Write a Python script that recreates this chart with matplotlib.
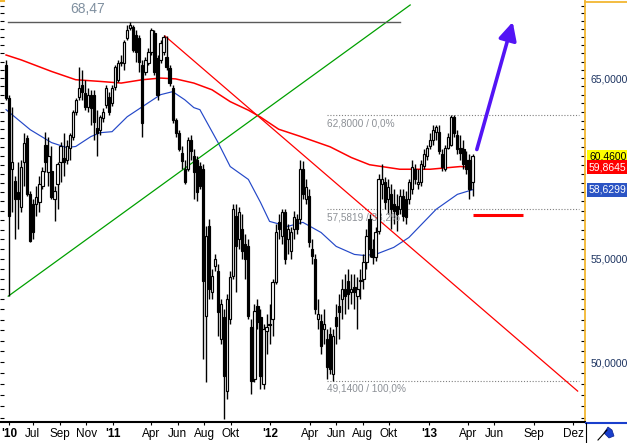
import numpy as np
import pandas as pd
import matplotlib
matplotlib.use('Agg')
import matplotlib.pyplot as plt
import matplotlib.dates as mdates
import matplotlib.transforms as mtransforms
from matplotlib.lines import Line2D
from matplotlib.patches import Polygon
from matplotlib.ticker import FixedLocator, NullFormatter, FuncFormatter

plt.rcParams['font.family'] = ['Liberation Sans', 'DejaVu Sans']

# weekly candles, first week starting 2010-05-03
start = '2010-05-03'
opens = [65.80, 63.83, 59.74, 59.08, 58.49, 57.68, 60.13, 61.52, 58.38, 57.84,
         57.84, 57.95, 58.81, 61.13, 59.58, 59.63, 58.11, 58.92, 60.13, 60.40,
         60.29, 60.96, 61.58, 63.01, 63.89, 64.59, 64.12, 63.30, 64.00, 64.00,
         62.09, 61.97, 62.67, 63.42, 63.89, 63.53, 64.47, 64.89, 65.92, 65.92,
         67.46, 68.08, 68.14, 67.64, 67.46, 65.80, 65.38, 65.92, 66.59, 67.77,
         66.23, 66.10, 66.59, 66.29, 65.62, 64.42, 62.55, 61.80, 60.68, 59.74,
         59.74, 61.41, 60.46, 60.29, 59.91, 59.74, 52.17, 56.68, 53.34, 54.63,
         54.38, 51.07, 52.12, 48.68, 52.03, 54.13, 57.21, 56.00, 56.52, 55.75,
         55.64, 51.64, 49.23, 52.65, 52.12, 49.00, 51.45, 51.79, 52.03, 53.83,
         56.89, 56.16, 57.42, 56.00, 55.39, 56.52, 57.05, 57.05, 59.74, 58.11,
         58.27, 55.49, 54.98, 52.03, 51.93, 51.55, 51.07, 51.31, 49.45, 52.12,
         52.65, 52.99, 53.48, 53.88, 53.34, 53.58, 53.14, 53.88, 53.98, 54.83,
         57.05, 55.49, 55.08, 56.42, 58.92, 59.03, 58.11, 58.38, 57.84, 57.74,
         57.58, 58.27, 58.11, 58.11, 58.65, 59.74, 58.92, 59.03, 59.91, 60.46,
         61.02, 61.41, 61.86, 61.86, 60.57, 59.74, 60.96, 61.13, 62.72, 61.69,
         60.96, 60.85, 60.29, 60.29, 59.03]
highs = [66.10, 64.00, 63.30, 59.36, 60.13, 60.29, 61.80, 61.69, 58.54, 58.11,
         58.81, 59.36, 59.85, 61.86, 61.58, 61.02, 58.81, 60.13, 61.30, 61.80,
         61.41, 61.80, 63.13, 63.83, 65.68, 65.50, 64.89, 64.42, 64.30, 64.30,
         63.13, 62.84, 63.24, 64.59, 64.18, 64.59, 65.80, 66.10, 66.41, 67.33,
         68.27, 68.47, 68.27, 67.96, 67.64, 66.10, 66.29, 66.84, 68.08, 67.96,
         66.41, 67.33, 67.64, 67.58, 65.80, 64.59, 62.67, 61.97, 61.02, 60.29,
         61.58, 61.69, 60.85, 60.46, 60.13, 60.02, 56.68, 57.05, 54.48, 55.23,
         54.73, 52.99, 52.51, 53.24, 54.38, 57.84, 57.84, 57.68, 57.31, 56.26,
         56.00, 52.03, 52.75, 52.99, 52.51, 51.79, 52.27, 52.75, 53.98, 56.78,
         57.31, 57.58, 57.58, 56.78, 56.63, 57.47, 57.31, 60.29, 60.18, 59.19,
         58.65, 56.00, 55.23, 52.99, 52.27, 52.51, 51.55, 51.64, 51.55, 52.75,
         53.24, 53.98, 54.23, 54.48, 54.23, 54.23, 54.08, 54.48, 55.23, 56.52,
         57.31, 56.00, 56.63, 59.47, 60.02, 59.30, 59.19, 58.92, 58.65, 58.38,
         58.65, 58.65, 58.54, 59.19, 60.29, 60.02, 59.74, 60.29, 60.85, 61.13,
         61.80, 62.26, 62.26, 62.26, 60.85, 61.13, 61.80, 62.80, 62.80, 61.97,
         61.69, 61.41, 60.74, 60.57, 60.57]
lows = [63.71, 53.14, 57.42, 56.00, 56.52, 57.42, 58.81, 58.27, 55.85, 56.00,
        57.21, 57.42, 58.65, 59.58, 58.81, 58.11, 56.94, 57.58, 59.03, 59.36,
        60.02, 60.29, 61.41, 62.84, 63.71, 63.71, 63.13, 63.01, 62.26, 61.41,
        60.46, 61.69, 62.43, 63.24, 62.84, 63.36, 64.30, 64.77, 65.74, 65.50,
        67.33, 67.96, 66.59, 65.98, 65.38, 61.58, 65.19, 65.80, 66.41, 65.19,
        63.71, 65.92, 66.41, 65.50, 64.53, 62.38, 61.58, 60.74, 59.74, 58.92,
        59.63, 60.29, 58.11, 58.00, 58.65, 50.14, 49.09, 52.99, 52.99, 54.38,
        51.21, 50.84, 47.45, 48.33, 51.79, 53.98, 53.34, 55.49, 54.98, 53.98,
        52.03, 48.55, 49.09, 51.55, 48.77, 48.77, 50.37, 50.84, 51.21, 53.73,
        56.00, 55.75, 54.73, 55.23, 54.98, 56.00, 56.26, 56.78, 58.11, 57.84,
        55.59, 54.73, 52.27, 51.55, 50.37, 50.84, 49.23, 49.45, 49.14, 50.84,
        51.07, 52.03, 52.27, 52.51, 52.75, 52.51, 51.55, 52.99, 53.48, 54.48,
        55.08, 54.73, 54.88, 56.26, 58.11, 57.58, 57.31, 56.52, 56.78, 56.42,
        57.31, 56.94, 56.78, 57.84, 58.38, 58.92, 58.65, 58.81, 59.74, 60.29,
        60.85, 61.13, 61.41, 60.57, 59.63, 59.63, 60.85, 61.02, 61.58, 60.57,
        60.29, 59.74, 59.47, 58.11, 58.27]
closes = [63.83, 57.21, 60.13, 58.11, 58.11, 59.85, 61.24, 58.38, 55.90, 56.37,
          58.22, 58.92, 59.63, 60.13, 60.46, 58.22, 58.54, 60.02, 61.02, 60.13,
          61.02, 61.69, 63.01, 63.71, 64.42, 64.18, 63.30, 64.00, 63.24, 62.43,
          61.80, 62.72, 63.01, 64.42, 63.01, 64.42, 65.68, 65.92, 65.98, 67.21,
          67.96, 68.27, 66.72, 66.59, 65.98, 62.38, 66.10, 66.59, 67.96, 65.38,
          64.00, 67.15, 67.52, 65.68, 64.71, 62.55, 61.80, 60.85, 60.18, 59.03,
          61.41, 60.74, 59.58, 58.49, 58.81, 53.88, 56.16, 53.48, 54.13, 54.98,
          52.36, 52.75, 49.36, 52.99, 54.08, 57.58, 55.64, 57.42, 55.39, 54.98,
          52.17, 49.14, 52.41, 51.88, 49.36, 51.55, 51.64, 51.75, 53.83, 56.37,
          56.52, 57.42, 54.98, 56.52, 56.37, 57.15, 56.52, 59.74, 58.38, 58.76,
          55.85, 55.13, 52.51, 52.27, 50.75, 51.79, 49.77, 49.68, 51.21, 51.69,
          52.36, 53.48, 53.14, 53.24, 53.48, 53.34, 53.48, 53.93, 54.83, 56.16,
          55.49, 55.08, 56.37, 59.19, 59.19, 57.95, 58.76, 57.58, 57.47, 57.31,
          58.27, 57.21, 57.15, 59.03, 59.85, 59.19, 59.03, 60.02, 60.57, 60.96,
          61.41, 61.97, 62.15, 60.74, 59.85, 60.96, 61.58, 62.72, 61.80, 60.85,
          60.68, 60.02, 59.74, 58.65, 60.46]

# moving averages, sampled at week numbers
red_ma_wk = [0, 5, 15, 23, 31, 38, 45, 51, 56, 62, 68, 74, 80, 84, 90, 97, 107, 114, 120, 130, 140, 150, 154]
red_ma = [66.4, 66.1, 65.4, 64.9, 64.8, 64.7, 64.9, 65.0, 64.95, 64.7, 64.3, 63.6, 63.1, 62.7, 62.0, 61.6,
          61.0, 60.4, 60.0, 59.75, 59.75, 59.9, 59.8645]
blue_ma_wk = [0, 8, 15, 20, 23, 28, 31, 35, 40, 46, 51, 55, 59, 62, 64, 70, 74, 80, 84, 87, 93, 98, 104,
              109, 115, 118, 122, 128, 133, 142, 149, 154]
blue_ma = [63.13, 61.97, 61.24, 60.96, 61.02, 61.58, 61.80, 61.86, 62.72, 63.42, 64.01, 64.19, 63.71, 63.25,
           63.13, 61.24, 59.90, 59.19, 57.95, 56.94, 56.68, 56.89, 56.36, 55.64, 55.23, 55.18, 55.23, 55.59,
           56.10, 57.58, 58.38, 58.6299]

# drawn lines (date, price)
green_line = [('2010-05-08', 53.14), ('2012-11-22', 69.54)]
red_line = [('2011-05-05', 67.58), ('2013-12-14', 48.68)]
top_level = 68.47
top_span = ['2010-05-08', '2012-10-29']
fib_levels = [62.80, 57.5819, 49.14]
fib_labels = ['62,8000 / 0,0%', '57,5819 / 38,2%', '49,1400 / 100,0%']
fib_span = ['2012-05-14', '2013-12-16']
arrow_from = ('2013-04-25', 60.85)
arrow_to = ('2013-07-17', 68.46)
support_line = [('2013-04-15', 57.26), ('2013-08-09', 57.26)]
last_values = [60.46, 59.8645, 58.6299]
last_colors = ['#ffff00', '#ff0000', '#2b54c4']
last_text = ['black', 'white', 'white']

month_dates = ['2010-05-10', '2010-07-04', '2010-09-04', '2010-11-04', '2011-01-04', '2011-04-04',
               '2011-06-04', '2011-08-04', '2011-10-04', '2012-01-04', '2012-04-04', '2012-06-04',
               '2012-08-04', '2012-10-04', '2013-01-04', '2013-04-04', '2013-06-04', '2013-09-04',
               '2013-12-04']
month_labels = ["'10", 'Jul', 'Sep', 'Nov', "'11", 'Apr', 'Jun', 'Aug', 'Okt', "'12", 'Apr', 'Jun',
                'Aug', 'Okt', "'13", 'Apr', 'Jun', 'Sep', 'Dez']


def d(s):
    return mdates.date2num(pd.Timestamp(s))


o = np.array(opens)
h = np.array(highs)
l = np.array(lows)
c = np.array(closes)
weeks = pd.date_range(start, periods=len(c), freq='7D')
x = mdates.date2num(weeks)

W, H = 627, 443
fig = plt.figure(figsize=(W / 100, H / 100), dpi=100)
ax = fig.add_axes([0, 21 / H, 585 / W, 422 / H])
ax.set_yscale('log')
ax.set_ylim(47.31, 69.86)
ax.set_xlim(d('2010-04-19'), d('2013-12-31'))

# candles
up = c >= o
ax.vlines(x, l, h, color='black', lw=1.0, zorder=3)
ax.bar(x[up], c[up] - o[up], bottom=o[up], width=5.2, facecolor='white',
       edgecolor='black', lw=0.85, zorder=4)
ax.bar(x[~up], o[~up] - c[~up], bottom=c[~up], width=5.2, facecolor='black',
       edgecolor='black', lw=0.85, zorder=4)

# moving averages
ax.plot(x[red_ma_wk], red_ma, color='#ff0000', lw=1.1, zorder=2)
ax.plot(x[blue_ma_wk], blue_ma, color='#2448c8', lw=0.85, zorder=2)

# trend lines
ax.plot([d(p[0]) for p in green_line], [p[1] for p in green_line], color='#00a000', lw=0.9, zorder=2)
ax.plot([d(p[0]) for p in red_line], [p[1] for p in red_line], color='#ff0000', lw=0.9, zorder=2)

# high line
ax.plot([d(top_span[0]), d(top_span[1])], [top_level, top_level], color='#5a5a5a', lw=1.0, zorder=2)
ax.text(d('2010-11-08'), 69.3, '68,47', ha='center', va='center', fontsize=10,
        color='#8090a0')

# fibonacci levels
for lev, lab in zip(fib_levels, fib_labels):
    ax.plot([d(fib_span[0]), d(fib_span[1])], [lev, lev], color='#808080', lw=0.8,
            linestyle=(0, (1, 1.6)), zorder=1)
    ax.annotate(lab, xy=(d(fib_span[0]), lev), xytext=(0, -2), textcoords='offset points',
                ha='left', va='top', fontsize=7.2, color='#8c9096')

# arrow and support mark
ax.annotate('', xy=(d(arrow_to[0]), arrow_to[1]), xytext=(d(arrow_from[0]), arrow_from[1]),
            arrowprops=dict(arrowstyle='-|>', color='#5314f5', lw=2.6, mutation_scale=27,
                            shrinkA=0, shrinkB=0), zorder=6)
ax.plot([d(p[0]) for p in support_line], [p[1] for p in support_line], color='#ff0000', lw=2.2,
        solid_capstyle='butt', zorder=6)

# axes styling
for side in ['top', 'left']:
    ax.spines[side].set_visible(False)
ax.spines['right'].set_color('#f2b632')
ax.spines['right'].set_linewidth(1.3)
ax.spines['bottom'].set_color('black')
ax.spines['bottom'].set_linewidth(1.5)

ax.yaxis.set_major_locator(FixedLocator([50, 55, 60, 65]))
ax.yaxis.set_minor_locator(FixedLocator(np.arange(47.5, 70, 0.5)))
ax.yaxis.set_major_formatter(FuncFormatter(lambda v, p: '' if v == 60 else f'{v:.4f}'.replace('.', ',')))
ax.yaxis.set_minor_formatter(NullFormatter())
ax.tick_params(axis='y', which='both', direction='in', left=True, right=True, labelleft=False,
               labelright=True, length=3, width=0.8, color='black', labelsize=7.5,
               labelcolor='#1d3461', pad=4)

ax.set_xticks([d(s) for s in month_dates])
ax.set_xticklabels(month_labels)
ax.tick_params(axis='x', which='both', direction='out', length=2, width=0.8, labelsize=8.5,
               pad=2.5, color='black', labelcolor='black')
for t in ax.get_xticklabels():
    if t.get_text().startswith("'"):
        t.set_fontweight('bold')

# last value boxes on the right axis
tr = mtransforms.blended_transform_factory(ax.transAxes, ax.transData)
for val, col, tc in zip(last_values, last_colors, last_text):
    ax.text(1 + 4 / 585, val, f'{val:.4f}'.replace('.', ','), transform=tr, ha='left', va='center',
            fontsize=7.5, color=tc, clip_on=False, zorder=10,
            bbox=dict(boxstyle='square,pad=0.18', fc=col, ec='none'))

# frame pieces and corner icon
fig.add_artist(Line2D([585 / W, 1], [1 - 1.5 / H, 1 - 1.5 / H], color='#f2b632', lw=1.3))
fig.add_artist(Line2D([0, 4 / W], [1 - 1 / H, 1 - 1 / H], color='#f2b632', lw=1.5))
fig.add_artist(Line2D([586 / W, 1], [1 - 423 / H, 1 - 423 / H], color='#1a3fcc', lw=1.5))
fig.add_artist(Line2D([586 / W, 586 / W], [0, 1 - 423 / H], color='black', lw=0.8))
fig.add_artist(Line2D([598 / W, 607 / W], [1 - 440 / H, 1 - 430 / H], color='black', lw=0.8))
fig.add_artist(Polygon([[604 / W, 1 - 433 / H], [608 / W, 1 - 427 / H], [612 / W, 1 - 430 / H],
                        [614 / W, 1 - 436 / H], [609 / W, 1 - 438 / H]], closed=True,
                       transform=fig.transFigure, fc='#1a3fcc', ec='#0a1f8c', lw=0.5))

fig.savefig('out.png', dpi=100, facecolor='white')
